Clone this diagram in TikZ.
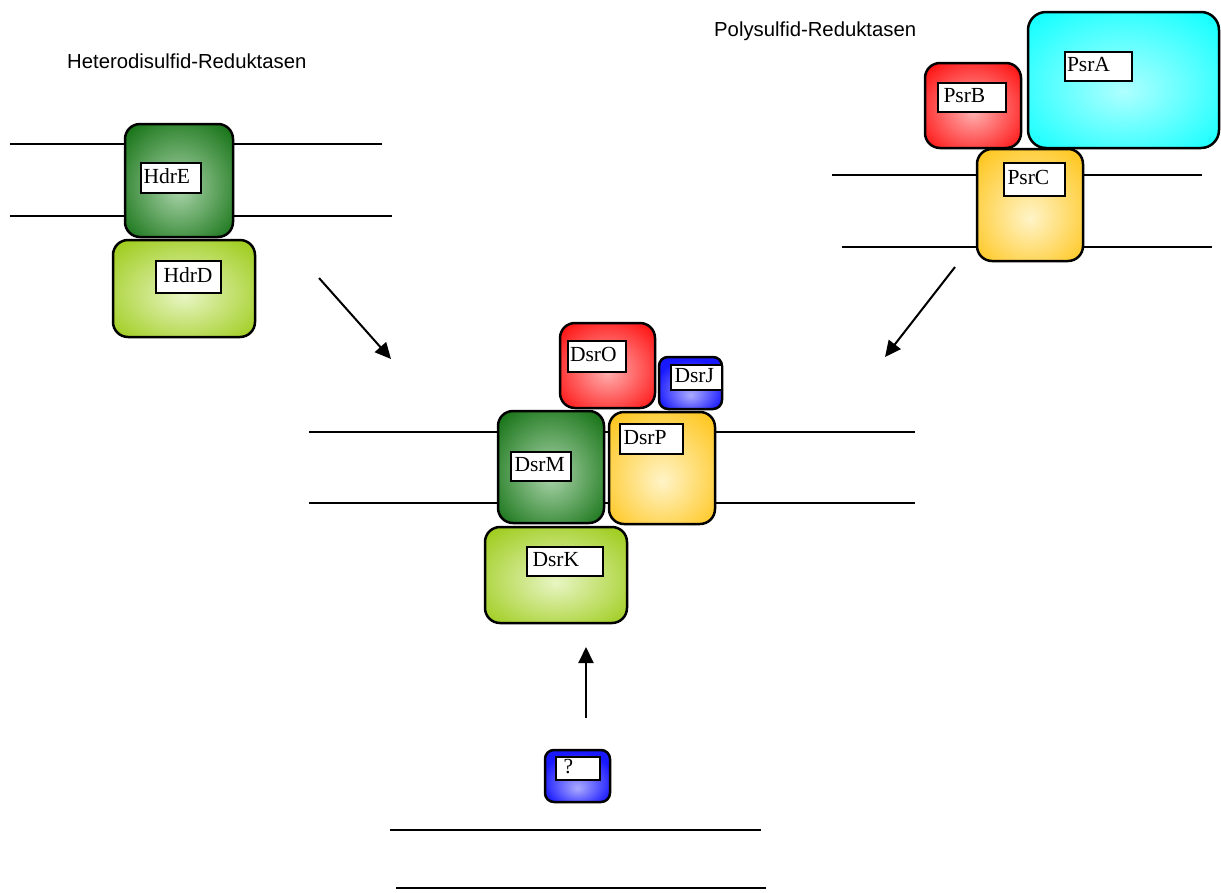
\documentclass[tikz,border=0pt]{standalone}
\usepackage{fontspec}
\setmainfont{Liberation Serif}
\newfontfamily\sansf{Liberation Sans}
\usetikzlibrary{arrows.meta}
\definecolor{dgout}{RGB}{22,115,22}
\definecolor{dgin}{RGB}{170,212,170}
\definecolor{lgout}{RGB}{158,204,28}
\definecolor{lgin}{RGB}{232,245,195}
\definecolor{rdout}{RGB}{255,15,15}
\definecolor{rdin}{RGB}{255,175,175}
\definecolor{cyout}{RGB}{20,255,255}
\definecolor{cyin}{RGB}{175,255,255}
\definecolor{yeout}{RGB}{255,198,30}
\definecolor{yein}{RGB}{255,244,200}
\definecolor{blout}{RGB}{25,25,255}
\definecolor{blin}{RGB}{170,170,255}
\pgfdeclareradialshading{shdg}{\pgfpoint{0bp}{-4bp}}{color(0bp)=(dgin); color(34bp)=(dgout); color(50bp)=(dgout)}
\pgfdeclareradialshading{shlg}{\pgfpoint{0bp}{-4bp}}{color(0bp)=(lgin); color(34bp)=(lgout); color(50bp)=(lgout)}
\pgfdeclareradialshading{shrd}{\pgfpoint{0bp}{-4bp}}{color(0bp)=(rdin); color(34bp)=(rdout); color(50bp)=(rdout)}
\pgfdeclareradialshading{shcy}{\pgfpoint{0bp}{-4bp}}{color(0bp)=(cyin); color(34bp)=(cyout); color(50bp)=(cyout)}
\pgfdeclareradialshading{shye}{\pgfpoint{0bp}{-6bp}}{color(0bp)=(yein); color(34bp)=(yeout); color(50bp)=(yeout)}
\pgfdeclareradialshading{shbl}{\pgfpoint{0bp}{-12bp}}{color(0bp)=(blin); color(28bp)=(blout); color(50bp)=(blout)}
\begin{document}
\begin{tikzpicture}[x=1pt,y=-1pt,
  prot/.style={draw, line width=2.5pt, rounded corners=15pt, inner sep=0pt},
  smallprot/.style={prot, rounded corners=9pt},
  lab/.style={draw, fill=white, line width=2pt, inner xsep=4pt, inner ysep=0pt,
    align=left, text height=14pt, text depth=4pt, font=\fontsize{21.5}{23}\selectfont},
  memb/.style={line width=1.6pt},
  arr/.style={line width=2pt, -{Triangle[length=16pt,width=15pt]}},
  title/.style={font=\sansf\fontsize{20.3}{22}\selectfont, anchor=west, inner sep=0pt}]
\useasboundingbox (0,0) rectangle (1221,892);

% membranes
\draw[memb] (10,144) -- (382,144);
\draw[memb] (10,216) -- (392,216);
\draw[memb] (832,175) -- (1202,175);
\draw[memb] (842,247) -- (1212,247);
\draw[memb] (309,432) -- (915,432);
\draw[memb] (309,503) -- (915,503);
\draw[memb] (390,830) -- (761,830);
\draw[memb] (396,888) -- (766,888);

% titles
\node[title] (thdr) at (67,61) {Heterodisulfid-Reduktasen};
\node[title] (tpsr) at (714,31) {Polysulfid-Reduktasen};

% Hdr
\node[prot, shading=shdg, minimum width=108pt, minimum height=113pt] (HdrE) at (179,180.5) {};
\node[prot, shading=shlg, minimum width=142pt, minimum height=97pt] (HdrD) at (184,288.5) {};
\node[lab, text width=54pt, minimum height=30pt, inner xsep=3pt] (HdrEl) at (170.5,178) {HdrE};
\node[lab, text width=57pt, minimum height=32pt] (HdrDl) at (188,277) {\hspace*{4pt}HdrD};

% Psr
\node[prot, shading=shrd, minimum width=96pt, minimum height=85pt] (PsrB) at (973,105.5) {};
\node[prot, rounded corners=18pt, shading=shcy, minimum width=191pt, minimum height=136pt] (PsrA) at (1123.5,80) {};
\node[prot, shading=shye, minimum width=106pt, minimum height=112pt] (PsrC) at (1030,205) {};
\node[lab, text width=63pt, minimum height=29pt, inner xsep=2pt] (PsrAl) at (1098.5,66.5) {PsrA};
\node[lab, text width=60pt, minimum height=29pt] (PsrBl) at (971.5,97.5) {\hspace*{2pt}PsrB};
\node[lab, text width=53pt, minimum height=33pt] (PsrCl) at (1034,179.5) {PsrC};

% Dsr
\node[prot, shading=shrd, minimum width=95pt, minimum height=85pt] (DsrO) at (607.5,365.5) {};
\node[smallprot, shading=shbl, minimum width=63pt, minimum height=52pt] (DsrJ) at (690.5,383) {};
\node[prot, shading=shdg, minimum width=106pt, minimum height=112pt] (DsrM) at (551,467) {};
\node[prot, shading=shye, minimum width=106pt, minimum height=112pt] (DsrP) at (662,468) {};
\node[prot, shading=shlg, minimum width=142pt, minimum height=96pt] (DsrK) at (556,575) {};
\node[lab, text width=54pt, minimum height=31pt, inner xsep=2pt] (DsrOl) at (597,356.5) {DsrO};
\node[lab, text width=43pt, minimum height=25pt] (DsrJl) at (696,377.5) {DsrJ};
\node[lab, text width=52pt, minimum height=29pt] (DsrMl) at (540.5,466.5) {DsrM};
\node[lab, text width=55pt, minimum height=30pt] (DsrPl) at (651,439) {DsrP};
\node[lab, text width=68pt, minimum height=29pt] (DsrKl) at (564.5,561.5) {\hspace*{2pt}DsrK};

% unknown
\node[smallprot, shading=shbl, minimum width=65pt, minimum height=52pt] (Q) at (577.5,776) {};
\node[lab, text width=36pt, minimum height=23pt] (Ql) at (577.5,768.5) {\hspace*{4pt}?};

% arrows
\coordinate (a1s) at (319,278); \coordinate (a1e) at (391,359);
\coordinate (a2s) at (955,267); \coordinate (a2e) at (885,357);
\coordinate (a3s) at (586,718); \coordinate (a3e) at (586,647);
\draw[arr] (a1s) -- (a1e);
\draw[arr] (a2s) -- (a2e);
\draw[arr] (a3s) -- (a3e);
\end{tikzpicture}
\end{document}
